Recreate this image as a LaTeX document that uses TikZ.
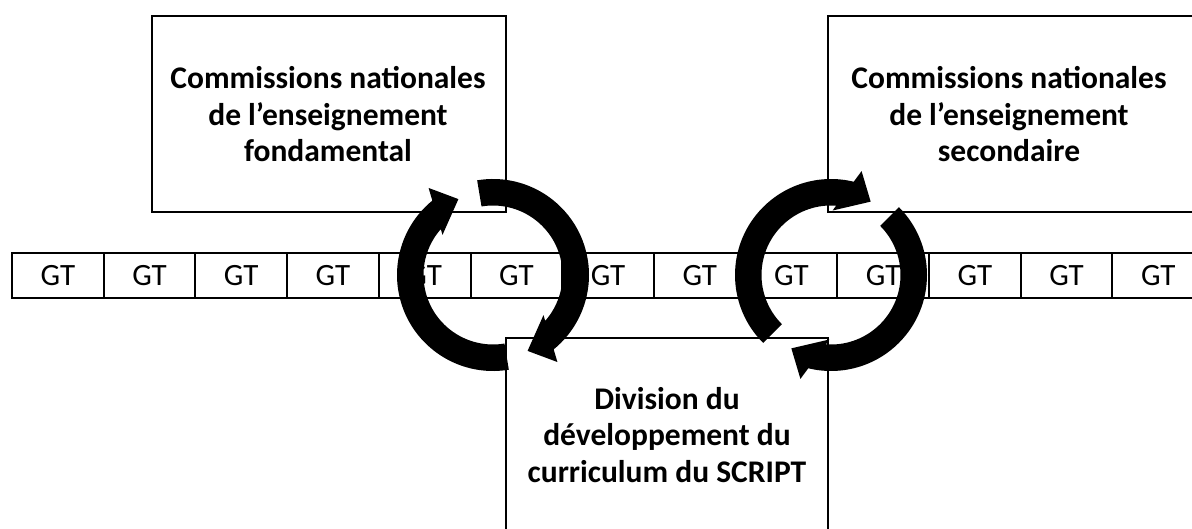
\documentclass[tikz,border=0pt]{standalone}
\usepackage{fontspec}
\setmainfont{Carlito}

% Thick circular arrow drawn clockwise around a centre #1,
% from the tail angle #2 to the tip angle #3 (degrees).
\newcommand\cyclearrow[3]{%
  \fill[cyc] ([shift={(#2:96pt)}]#1)
    arc[start angle=#2, end angle={#3+14.7}, radius=96pt]
    -- ([shift={({#3+12}:108.3pt)}]#1)
    -- ([shift={(#3:83.4pt)}]#1)
    -- ([shift={({#3+27}:64.5pt)}]#1)
    -- ([shift={({#3+24.2}:69.5pt)}]#1)
    arc[start angle={#3+24.2}, end angle=#2, radius=69.5pt]
    -- cycle;}

\begin{document}
\begin{tikzpicture}[x=1pt,y=1pt,
  frame/.style={draw=black, line width=2.2pt, fill=white, inner sep=0pt},
  title/.style={font=\bfseries\fontsize{31.5}{36.5}\selectfont, align=center, inner sep=0pt},
  gtcell/.style={draw=black, line width=2pt, fill=white, minimum width=91.7pt,
    minimum height=44.2pt, inner sep=0pt, font=\fontsize{31}{36}\selectfont},
  cyc/.style={fill=black}]

\useasboundingbox (0,0) rectangle (1192,-529);
\clip (0,0) rectangle (1192,-529);

% the three committees / divisions
\node[frame, minimum width=354pt, minimum height=196pt] (fond) at (329,-114) {};
\node[frame, minimum width=372pt, minimum height=196pt] (sec) at (1014,-114) {};
\node[frame, minimum width=322pt, minimum height=222pt] (div) at (667,-449) {};

% multi-line texts, placed by the baseline of their last line
\node[title, anchor=base] (fondtxt) at (328,-161.7)
  {Commissions nationales\\de l’enseignement\\fondamental};
\node[title, anchor=base] (sectxt) at (1009,-161.7)
  {Commissions nationales\\de l’enseignement\\secondaire};
\node[title, anchor=base] (divtxt) at (667,-482)
  {Division du\\développement du\\curriculum du SCRIPT};

% row of working groups
\foreach \i in {1,...,13}
  \node[gtcell] (gt\i) at ({12+91.7*(\i-0.5)},-275.6) {GT};

% circular exchange arrows
\coordinate (lc) at (493,-275);
\coordinate (rc) at (831,-275);
\cyclearrow{lc}{279.5}{114.5}
\cyclearrow{lc}{99.5}{-65.5}
\cyclearrow{rc}{225}{61.6}
\cyclearrow{rc}{45}{-118.4}
\end{tikzpicture}
\end{document}
